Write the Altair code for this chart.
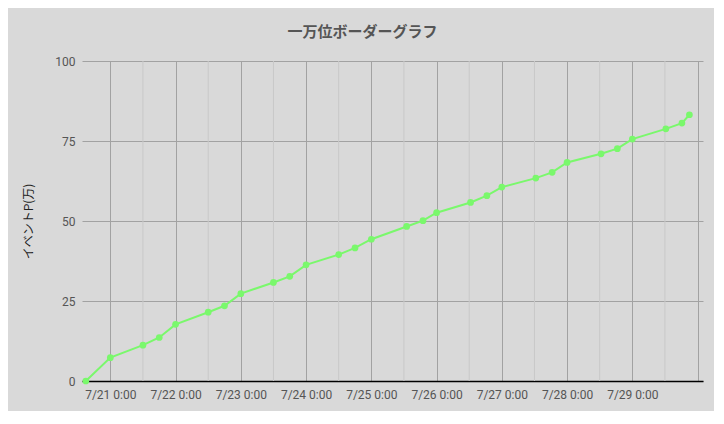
import altair as alt
import pandas as pd

# data
times = [
    "2019-07-20T15:00", "2019-07-21T00:00", "2019-07-21T12:00", "2019-07-21T18:00",
    "2019-07-22T00:00", "2019-07-22T12:00", "2019-07-22T18:00", "2019-07-23T00:00",
    "2019-07-23T12:00", "2019-07-23T18:00", "2019-07-24T00:00", "2019-07-24T12:00",
    "2019-07-24T18:00", "2019-07-25T00:00", "2019-07-25T13:00", "2019-07-25T19:00",
    "2019-07-26T00:00", "2019-07-26T12:30", "2019-07-26T18:30", "2019-07-27T00:00",
    "2019-07-27T12:30", "2019-07-27T18:30", "2019-07-28T00:00", "2019-07-28T12:30",
    "2019-07-28T18:30", "2019-07-29T00:00", "2019-07-29T12:20", "2019-07-29T18:15",
    "2019-07-29T21:00",
]
points = [
    0.0, 7.3, 11.2, 13.6,
    17.7, 21.5, 23.5, 27.3,
    30.8, 32.7, 36.3, 39.5,
    41.6, 44.3, 48.3, 50.1,
    52.6, 55.8, 57.9, 60.6,
    63.4, 65.2, 68.3, 71.0,
    72.6, 75.6, 78.8, 80.6,
    83.2,
]
y_ticks = [0, 25, 50, 75, 100]
major_days = [21, 22, 23, 24, 25, 26, 27, 28, 29, 30]
minor_times = [
    "2019-07-21T12:00", "2019-07-22T12:00", "2019-07-23T12:00", "2019-07-24T12:00",
    "2019-07-25T12:00", "2019-07-26T12:00", "2019-07-27T12:00", "2019-07-28T12:00",
    "2019-07-29T12:00",
]
x_start = alt.DateTime(year=2019, month=7, date=20, hours=13, minutes=35)
x_end = alt.DateTime(year=2019, month=7, date=30, hours=2, minutes=0)

df = pd.DataFrame({"t": times, "p": points})
minor_df = pd.DataFrame({"t": minor_times})

title = "一万位ボーダーグラフ"
y_title = "イベントP(万)"

x_scale = alt.Scale(domain=[x_start, x_end])

minor = alt.Chart(minor_df).mark_rule(color="#c8c8c8", strokeWidth=1).encode(
    x=alt.X("t:T", scale=x_scale)
)

base = alt.Chart(df).encode(
    x=alt.X(
        "t:T",
        scale=x_scale,
        axis=alt.Axis(
            title=None,
            values=[alt.DateTime(year=2019, month=7, date=d) for d in major_days],
            labelExpr="timeFormat(datum.value, '%-d') == '30' ? '' : timeFormat(datum.value, '%-m/%-d') + ' 0:00'",
            labelOverlap=False,
            labelFlush=False,
            labelFont="Roboto",
            labelFontSize=12,
            labelColor="#555555",
            labelPadding=8,
            ticks=False,
            domainColor="#000000",
            domainWidth=1.5,
            grid=True,
            gridColor="#a2a2a2",
            gridOpacity=1,
        ),
    ),
    y=alt.Y(
        "p:Q",
        scale=alt.Scale(domain=[0, 100], nice=False),
        axis=alt.Axis(
            title=y_title,
            values=y_ticks,
            titleFont="Noto Sans CJK JP",
            titleFontSize=12,
            titleFontWeight="normal",
            titleColor="#222222",
            titlePadding=19,
            labelFont="Roboto",
            labelFontSize=12,
            labelColor="#555555",
            labelPadding=7,
            ticks=False,
            domain=False,
            gridColor="#a2a2a2",
            gridOpacity=1,
        ),
    ),
)

line = base.mark_line(color="#7af86c", strokeWidth=2)
pts = base.mark_point(filled=True, color="#7af86c", size=45, opacity=1)

chart = (
    alt.layer(minor, line, pts)
    .properties(
        width=621,
        height=320,
        padding={"left": 14, "top": 17, "right": 11, "bottom": 11},
        background="#d9d9d9",
        title=alt.TitleParams(
            title,
            anchor="middle",
            font="Noto Sans CJK JP",
            fontSize=15,
            fontWeight="bold",
            color="#555555",
            dx=-30,
            offset=15,
        ),
    )
    .configure_view(stroke=None)
)

chart.save("out.html", embed_options={"renderer": "svg", "actions": False})
